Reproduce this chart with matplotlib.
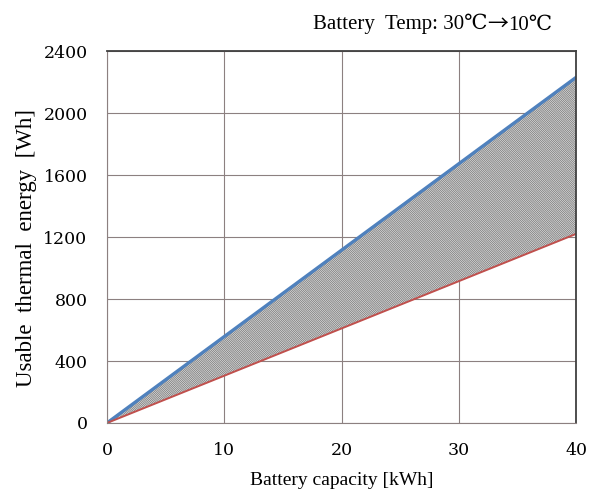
import numpy as np
import matplotlib.pyplot as plt

plt.rcParams['font.family'] = ['Liberation Serif', 'DejaVu Serif']
plt.rcParams['hatch.color'] = '#707070'
plt.rcParams['hatch.linewidth'] = 0.55

# battery capacity [kWh] vs usable thermal energy [Wh]
capacity = [0, 40]
energy_high = [0, 2230]
energy_low = [0, 1220]

xticks = [0, 10, 20, 30, 40]
yticks = [0, 400, 800, 1200, 1600, 2000, 2400]

fig = plt.figure(figsize=(5.96, 4.91), dpi=100)
ax = fig.add_axes([0.1795, 0.1385, 0.787, 0.7575])

ax.fill_between(capacity, energy_low, energy_high, facecolor='white',
                edgecolor='#707070', hatch='\\' * 18, linewidth=0)
ax.plot(capacity, energy_high, color='#4f81bd', lw=2.4)
ax.plot(capacity, energy_low, color='#c0504d', lw=1.4)

ax.set_xlim(0, 40)
ax.set_ylim(0, 2400)
ax.set_xticks(xticks)
ax.set_yticks(yticks)
ax.grid(True, color='#8c8080', lw=0.8)
ax.set_axisbelow(True)
ax.tick_params(length=0, pad=14)
for lab in ax.get_xticklabels() + ax.get_yticklabels():
    lab.set_family('DejaVu Serif')
    lab.set_fontsize(12.5)

for s in ['top', 'right']:
    ax.spines[s].set_color('#404040')
    ax.spines[s].set_linewidth(1.3)
for s in ['left', 'bottom']:
    ax.spines[s].set_color('#8c8080')
    ax.spines[s].set_linewidth(0.8)

ax.set_xlabel('Battery capacity [kWh]', fontsize=14, labelpad=9)
ax.set_ylabel('Usable  thermal  energy  [Wh]', fontsize=16.5)
ax.yaxis.set_label_coords(-0.15, 0.47)

# header: serif text with a full-width arrow
serif = ['Liberation Serif', 'DejaVu Serif']
parts = [('Battery  Temp: 30\u2103', serif),
         ('\u2192', ['Noto Sans CJK JP']),
         ('10\u2103', serif)]
renderer = fig.canvas.get_renderer()
x = 313 / 596
for txt, fam in parts:
    t = fig.text(x, 0.94, txt, ha='left', va='baseline', fontsize=15,
                 family=fam)
    bb = t.get_window_extent(renderer)
    x = bb.x1 / fig.bbox.width

fig.savefig('out.png', dpi=100)
